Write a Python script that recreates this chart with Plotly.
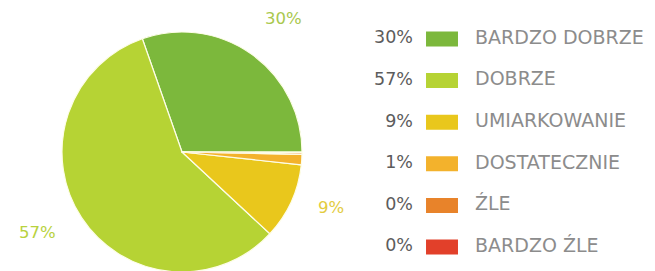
import math
import plotly.graph_objects as go

# ---- data ----
categories = ["BARDZO DOBRZE", "DOBRZE", "UMIARKOWANIE", "DOSTATECZNIE", "ŹLE", "BARDZO ŹLE"]
shares = [30.3, 57.6, 10.2, 1.4, 0.2, 0.1]          # slice sizes
pct_labels = ["30%", "57%", "9%", "1%", "0%", "0%"]  # labels printed on chart
colors = ["#7cb83c", "#b6d334", "#e9c71c", "#f3b22c", "#e8832a", "#e2402a"]
label_colors = ["#a9c84e", "#b8d23e", "#e3cc3e"]

W, H = 655, 271
# pie geometry (paper fractions; page body adds an 8px offset)
dom_x = [0.0824, 0.4489]
dom_y = [0.0258, 0.9114]

total = sum(shares)
# first slice spans from 3 o'clock counter-clockwise
rotation = 90 - 360 * shares[0] / total

fig = go.Figure()
fig.add_trace(go.Pie(
    labels=categories, values=shares, sort=False, direction="counterclockwise",
    rotation=rotation, textinfo="none", hoverinfo="label+percent",
    marker=dict(colors=colors, line=dict(color="#fdfde8", width=1.2)),
    domain=dict(x=dom_x, y=dom_y), showlegend=False,
))

# outside percentage labels for larger slices, positioned from data angles
cx = (dom_x[0] + dom_x[1]) / 2 * W
cy = (dom_y[0] + dom_y[1]) / 2 * H
r = min((dom_x[1] - dom_x[0]) * W, (dom_y[1] - dom_y[0]) * H) / 2
start = 0.0
annotations = []
offsets = [-2, -4, 4]
dists = [1.40, 1.38, 1.33]
for i, v in enumerate(shares):
    ang = start + v / total * 360 / 2
    start += v / total * 360
    if v < 5:
        continue
    a = math.radians(ang + offsets[i])
    d = r * dists[i]
    annotations.append(dict(
        x=(cx + d * math.cos(a)) / W, y=(cy + d * math.sin(a)) / H,
        xref="paper", yref="paper", text=pct_labels[i], showarrow=False,
        font=dict(family="DejaVu Sans", size=16.5, color=label_colors[i]),
        xanchor="center", yanchor="middle"))

# legend drawn on a hidden axis pair
rows = list(range(len(categories)))
fig.add_trace(go.Scatter(
    x=[0.6183] * len(rows), y=rows, mode="text", text=pct_labels,
    textposition="middle left", xaxis="x2", yaxis="y2", showlegend=False,
    textfont=dict(family="DejaVu Sans", size=17.5, color="#5c5c5c"), hoverinfo="skip"))
fig.add_trace(go.Scatter(
    x=[0.7130] * len(rows), y=rows, mode="text", text=categories,
    textposition="middle right", xaxis="x2", yaxis="y2", showlegend=False,
    textfont=dict(family="DejaVu Sans", size=19, color="#8c8c8c"), hoverinfo="skip"))

shapes = []
for i, c in zip(rows, colors):
    shapes.append(dict(type="rect", xref="x2", yref="y2",
                       x0=0.6382, x1=0.687, y0=i - 0.18, y1=i + 0.18,
                       fillcolor=c, line=dict(width=0)))

fig.update_layout(
    width=W, height=H, margin=dict(l=0, r=0, t=0, b=0),
    paper_bgcolor="white", plot_bgcolor="rgba(0,0,0,0)",
    xaxis2=dict(domain=[0, 1], range=[0, 1], visible=False, fixedrange=True),
    yaxis2=dict(domain=[0.0413, 0.9624], range=[5.5, -0.5], visible=False, fixedrange=True),
    shapes=shapes, annotations=annotations,
)
fig.write_html("out.html")
